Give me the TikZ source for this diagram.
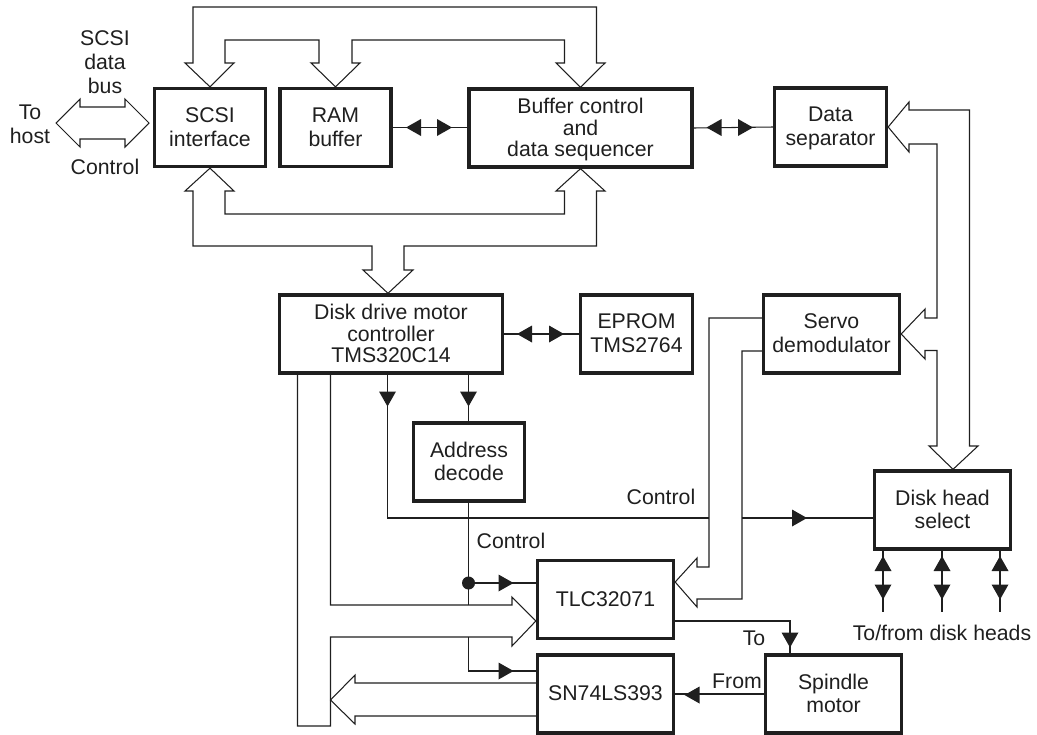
\documentclass[tikz,border=0pt]{standalone}
\usepackage{fontspec}
\setmainfont{Liberation Sans}
\definecolor{BlockInk}{gray}{0.12}
\tikzset{
    blockbox/.style={draw=BlockInk, line width=1.9pt, fill=white, align=center, inner sep=0pt,
        minimum width=2.22cm, minimum height=1.56cm, text=BlockInk, text depth=0.8pt},
    tightbox/.style={blockbox, font=\fontsize{12.1}{12}\selectfont},
    thinline/.style={draw=BlockInk, line width=0.6pt},
    buslabel/.style={align=center, inner sep=0pt, text=BlockInk},
}
\newcommand{\flowtip}[2]{\fill[BlockInk, shift={(#1)}, rotate=#2] (7.5,0) -- (-7.5,8.5) -- (-7.5,-8.5) -- cycle;}

\begin{document}
\begin{tikzpicture}[x=0.02cm, y=-0.02cm, font=\fontsize{12.1}{13.6}\selectfont]

\useasboundingbox (0,0) rectangle (1037,734);

% blocks
\node[blockbox] (scsiBlock) at (210,127.5) {SCSI\\interface};
\node[blockbox] (ramBlock) at (335.5,127.5) {RAM\\buffer};
\node[tightbox, minimum width=4.46cm] (bufferBlock) at (580.5,128) {Buffer control\\and\\data sequencer};
\node[blockbox, minimum width=2.24cm] (separatorBlock) at (830.5,127) {Data\\separator};
\node[tightbox, minimum width=4.46cm] (motorBlock) at (391,334) {Disk drive motor\\controller\\TMS320C14};
\node[blockbox, minimum width=2.24cm] (epromBlock) at (636.5,334) {EPROM\\TMS2764};
\node[blockbox, minimum width=2.72cm] (servoBlock) at (831.5,334) {Servo\\demodulator};
\node[blockbox] (addressBlock) at (469,462) {Address\\decode};
\node[blockbox, minimum width=2.72cm] (headBlock) at (942.5,510) {Disk head\\select};
\node[blockbox, minimum width=2.72cm] (tlcBlock) at (605.5,599.5) {TLC32071};
\node[blockbox, minimum width=2.72cm] (counterBlock) at (605.5,694) {SN74LS393};
\node[blockbox, minimum width=2.72cm] (spindleBlock) at (833.5,694) {Spindle\\motor};

% wide buses
\draw[thinline] (scsiBlock.north) -- (234,63) -- (225,63) -- (225,40) -- (319,40) -- (319,63) -- (311,63)
    -- (ramBlock.north) -- (360,63) -- (352,63) -- (352,40) -- (564.5,40) -- (564.5,63) -- (556,63)
    -- (bufferBlock.north) -- (605,63) -- (596.5,63) -- (596.5,7) -- (193,7) -- (193,63) -- (185,63) -- cycle;
\draw[thinline] (scsiBlock.south) -- (234,191) -- (225,191) -- (225,214) -- (564.5,214) -- (564.5,191) -- (556,191)
    -- (bufferBlock.south) -- (605,191) -- (596.5,191) -- (596.5,246) -- (404,246) -- (404,270) -- (413,270)
    -- (motorBlock.north -| 388,0) -- (363,270) -- (372,270) -- (372,246) -- (193,246) -- (193,191) -- (185,191) -- cycle;
\draw[thinline] (149,123) -- (125,99) -- (125,107) -- (80,107) -- (80,99) -- (56,123)
    -- (80,147) -- (80,139) -- (125,139) -- (125,147) -- cycle;
\draw[thinline] (separatorBlock.east) -- (909,102) -- (909,110) -- (969.5,110) -- (969.5,446) -- (978,446)
    -- (headBlock.north -| 953,0) -- (929,446) -- (937,446) -- (937,350.5) -- (925,350.5) -- (925,359)
    -- (servoBlock.east) -- (925,309) -- (925,318) -- (937,318) -- (937,144) -- (909,144) -- (909,152) -- cycle;
\draw[thinline] (servoBlock.west |- 0,318) -- (709,318) -- (709,567) -- (697,567) -- (697,558)
    -- (tlcBlock.east |- 0,582) -- (697,607) -- (697,599) -- (742,599) -- (742,351) -- (servoBlock.west |- 0,351);
\draw[thinline] (330.5,375) -- (330.5,605) -- (512,605) -- (512,597) -- (tlcBlock.west |- 0,621) -- (512,646) -- (512,637)
    -- (330.5,637) -- (330.5,726) -- (297.5,726) -- (297.5,375);
\draw[thinline] (counterBlock.west |- 0,683) -- (355,683) -- (355,675) -- (330.5,700) -- (355,724) -- (355,716)
    -- (counterBlock.west |- 0,716);

% thin connectors
\draw[thinline] (ramBlock.east) -- (bufferBlock.west |- ramBlock.east);
\draw[thinline] (bufferBlock.east) -- (separatorBlock.west);
\draw[thinline] (motorBlock.east) -- (epromBlock.west);
\draw[thinline] (387.5,375) -- (387.5,518) -- (709,518);
\draw[thinline] (742,518) -- (headBlock.west |- 0,518);
\draw[thinline] (468.5,375) -- (addressBlock.north -| 468.5,0);
\draw[thinline] (addressBlock.south -| 468.5,0) -- (468.5,605);
\draw[thinline] (468.5,583) -- (tlcBlock.west |- 0,583);
\draw[thinline] (468.5,637) -- (468.5,671) -- (counterBlock.west |- 0,671);
\draw[thinline] (tlcBlock.east |- 0,621) -- (790,621) -- (spindleBlock.north -| 790,0);
\draw[thinline] (spindleBlock.west) -- (counterBlock.east);
\foreach \headx in {883,942,1000} {
    \draw[thinline] (\headx,551) -- (\headx,612);
    \flowtip{\headx,563.5}{90}
    \flowtip{\headx,592}{-90}
}

% arrow heads
\flowtip{413.5,127.5}{180}
\flowtip{444.5,127.5}{0}
\flowtip{714,127.5}{180}
\flowtip{745.5,127.5}{0}
\flowtip{524.5,334}{180}
\flowtip{556.5,334}{0}
\flowtip{387.5,399}{-90}
\flowtip{468.5,399}{-90}
\flowtip{799.5,518}{0}
\flowtip{506,583}{0}
\flowtip{506,671}{0}
\flowtip{790,640}{-90}
\flowtip{692,695}{180}
\fill[BlockInk] (468.5,583) circle (6.5);

% labels
\node[buslabel] (busName) at (105,62) {SCSI\\data\\bus};
\node[buslabel] (hostName) at (30,124.5) {To\\host};
\node[buslabel] (hostControl) at (105,167) {Control};
\node[buslabel] (headControl) at (661,497) {Control};
\node[buslabel] (decodeControl) at (511,541) {Control};
\node[buslabel] (spindleTo) at (754,638) {To};
\node[buslabel] (spindleFrom) at (737,681) {From};
\node[buslabel] (headsName) at (942,633) {To/from disk heads};

\end{tikzpicture}
\end{document}
